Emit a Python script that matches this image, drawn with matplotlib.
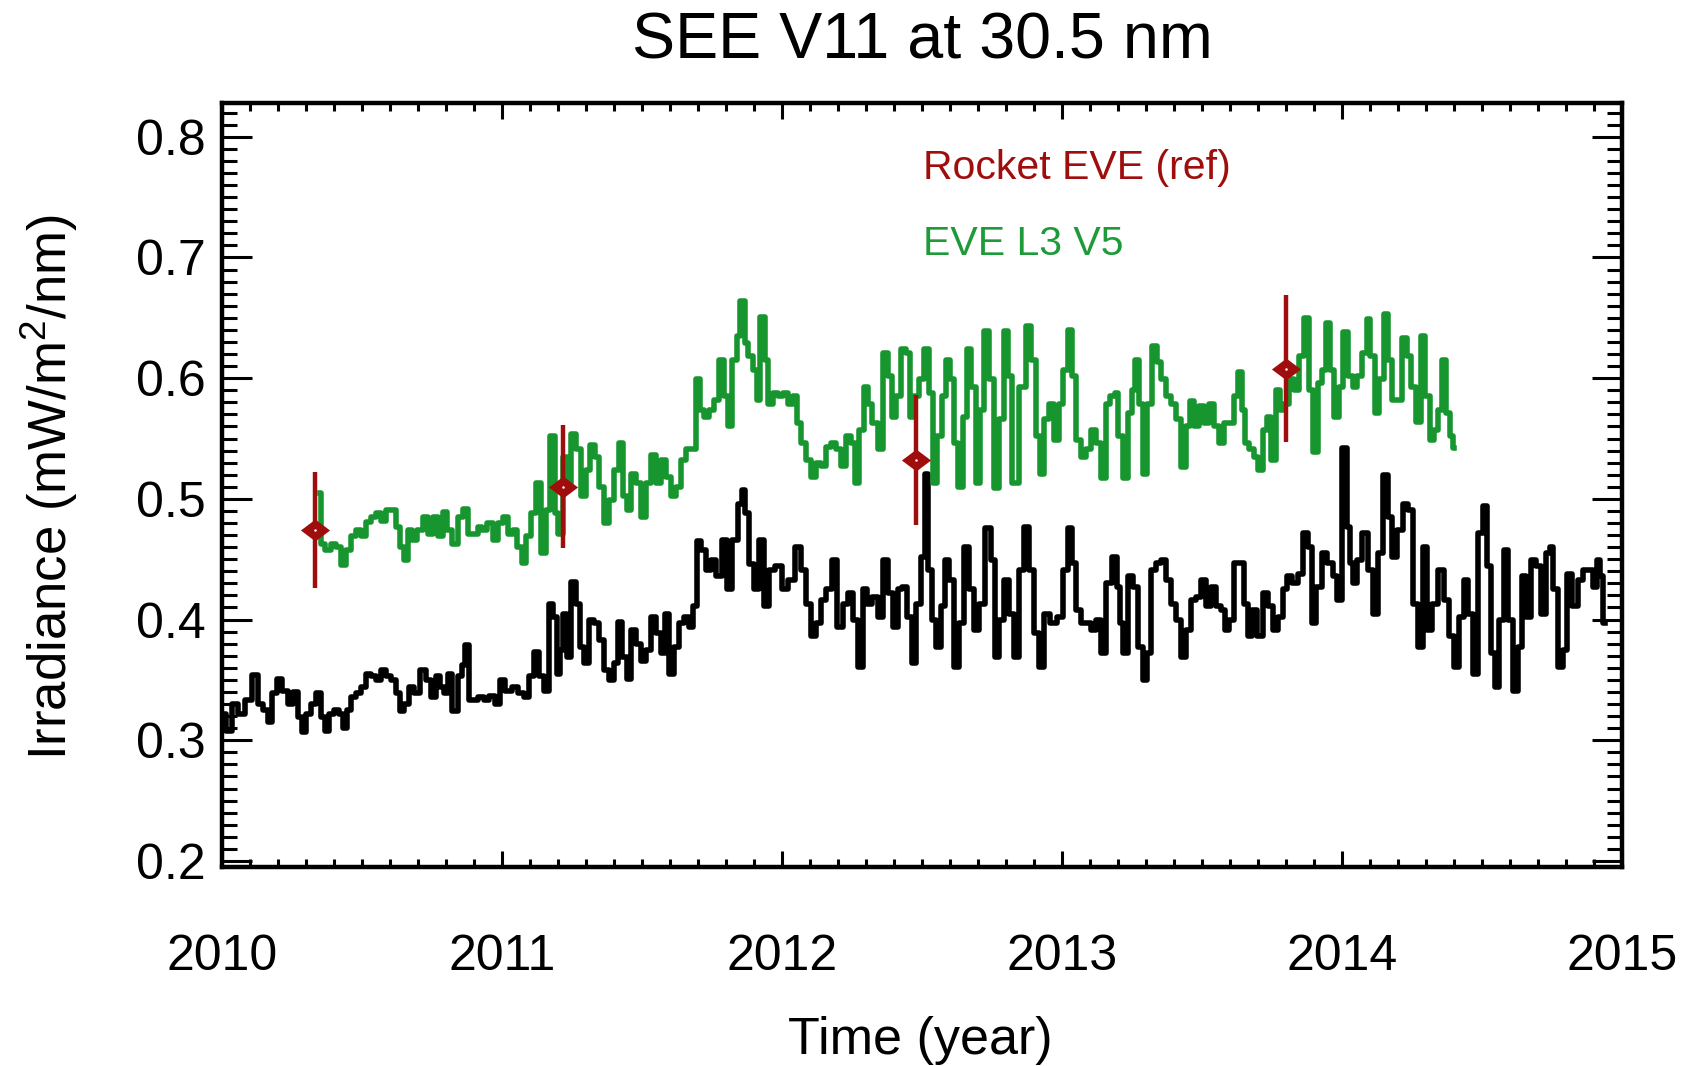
import matplotlib
matplotlib.use("Agg")
import matplotlib.pyplot as plt
from matplotlib.ticker import MultipleLocator, FormatStrFormatter

plt.rcParams['font.family'] = ['Liberation Sans', 'DejaVu Sans']
plt.rcParams['mathtext.fontset'] = 'custom'
plt.rcParams['mathtext.rm'] = 'Liberation Sans'
plt.rcParams['mathtext.it'] = 'Liberation Sans'

# ---------------------------------------------------------------------
# data (decimal year, mW/m^2/nm)
# ---------------------------------------------------------------------
see_time = [
    2010.005, 2010.023, 2010.046, 2010.070, 2010.094, 2010.118, 2010.136, 2010.154, 2010.171, 2010.189,
    2010.201, 2010.225, 2010.243, 2010.261, 2010.279, 2010.290, 2010.308, 2010.326, 2010.344, 2010.362,
    2010.374, 2010.392, 2010.410, 2010.427, 2010.439, 2010.451, 2010.469, 2010.487, 2010.505, 2010.523,
    2010.540, 2010.558, 2010.576, 2010.594, 2010.612, 2010.630, 2010.642, 2010.660, 2010.677, 2010.695,
    2010.719, 2010.737, 2010.755, 2010.773, 2010.785, 2010.802, 2010.814, 2010.832, 2010.850, 2010.862,
    2010.876, 2010.886, 2010.904, 2010.927, 2010.945, 2010.963, 2010.987,
    2010.999, 2011.023, 2011.046, 2011.070, 2011.088, 2011.106, 2011.124, 2011.142, 2011.160, 2011.177,
    2011.189, 2011.201, 2011.213, 2011.225, 2011.239, 2011.255, 2011.270, 2011.285, 2011.302, 2011.320,
    2011.338, 2011.356, 2011.374, 2011.392, 2011.410, 2011.421, 2011.439, 2011.451, 2011.469, 2011.487,
    2011.505, 2011.523, 2011.540, 2011.558, 2011.576, 2011.588, 2011.606, 2011.624, 2011.642, 2011.660,
    2011.677, 2011.689, 2011.701, 2011.719, 2011.737, 2011.755, 2011.773, 2011.796, 2011.814, 2011.832,
    2011.850, 2011.862, 2011.874, 2011.892, 2011.910, 2011.927, 2011.945, 2011.963, 2011.987,
    2012.011, 2012.035, 2012.058, 2012.076, 2012.094, 2012.112, 2012.130, 2012.148, 2012.165, 2012.189,
    2012.207, 2012.225, 2012.243, 2012.261, 2012.279, 2012.296, 2012.314, 2012.332, 2012.350, 2012.368,
    2012.386, 2012.404, 2012.421, 2012.439, 2012.457, 2012.473, 2012.487, 2012.505, 2012.517, 2012.529,
    2012.540, 2012.558, 2012.576, 2012.588, 2012.606, 2012.624, 2012.642, 2012.660, 2012.677, 2012.695,
    2012.713, 2012.737, 2012.755, 2012.767, 2012.785, 2012.802, 2012.820, 2012.838, 2012.856, 2012.874,
    2012.892, 2012.910, 2012.927, 2012.945, 2012.969, 2012.993,
    2013.011, 2013.029, 2013.040, 2013.058, 2013.076, 2013.094, 2013.112, 2013.130, 2013.148, 2013.165,
    2013.189, 2013.201, 2013.213, 2013.225, 2013.243, 2013.261, 2013.279, 2013.296, 2013.308, 2013.326,
    2013.344, 2013.362, 2013.380, 2013.398, 2013.415, 2013.433, 2013.451, 2013.469, 2013.487, 2013.505,
    2013.523, 2013.540, 2013.558, 2013.576, 2013.588, 2013.606, 2013.624, 2013.642, 2013.660, 2013.671,
    2013.689, 2013.707, 2013.725, 2013.743, 2013.761, 2013.779, 2013.796, 2013.814, 2013.832, 2013.850,
    2013.868, 2013.886, 2013.898, 2013.915, 2013.939, 2013.957, 2013.975, 2013.987,
    2014.011, 2014.023, 2014.035, 2014.046, 2014.064, 2014.082, 2014.100, 2014.118, 2014.136, 2014.154,
    2014.171, 2014.189, 2014.207, 2014.225, 2014.243, 2014.261, 2014.279, 2014.296, 2014.314, 2014.332,
    2014.356, 2014.374, 2014.392, 2014.410, 2014.427, 2014.445, 2014.457, 2014.475, 2014.493, 2014.511,
    2014.525, 2014.540, 2014.552, 2014.570, 2014.585, 2014.600, 2014.618, 2014.636, 2014.648, 2014.665,
    2014.683, 2014.701, 2014.719, 2014.737, 2014.749, 2014.761, 2014.779, 2014.796, 2014.814, 2014.832,
    2014.850, 2014.868, 2014.886, 2014.904, 2014.915, 2014.927, 2014.939,
]
see_irr = [
    0.322, 0.308, 0.330, 0.322, 0.333, 0.354, 0.330, 0.325, 0.315, 0.339,
    0.351, 0.341, 0.330, 0.340, 0.319, 0.307, 0.322, 0.330, 0.339, 0.319,
    0.308, 0.322, 0.325, 0.322, 0.310, 0.325, 0.336, 0.339, 0.344, 0.355,
    0.353, 0.350, 0.358, 0.353, 0.350, 0.339, 0.324, 0.330, 0.344, 0.339,
    0.358, 0.350, 0.336, 0.353, 0.344, 0.339, 0.355, 0.324, 0.353, 0.362,
    0.379, 0.333, 0.333, 0.336, 0.333, 0.337, 0.330,
    0.350, 0.341, 0.344, 0.339, 0.336, 0.353, 0.373, 0.353, 0.341, 0.413,
    0.402, 0.355, 0.375, 0.405, 0.369, 0.431, 0.413, 0.377, 0.364, 0.400,
    0.397, 0.383, 0.358, 0.350, 0.364, 0.398, 0.369, 0.351, 0.391, 0.380,
    0.366, 0.375, 0.402, 0.389, 0.372, 0.405, 0.355, 0.377, 0.397, 0.402,
    0.394, 0.411, 0.465, 0.458, 0.441, 0.449, 0.436, 0.466, 0.425, 0.466,
    0.496, 0.507, 0.488, 0.446, 0.425, 0.466, 0.411, 0.441, 0.444,
    0.425, 0.433, 0.460, 0.441, 0.413, 0.386, 0.397, 0.416, 0.425, 0.449,
    0.394, 0.413, 0.422, 0.400, 0.361, 0.425, 0.413, 0.419, 0.402, 0.449,
    0.422, 0.394, 0.425, 0.427, 0.402, 0.364, 0.413, 0.452, 0.521, 0.441,
    0.400, 0.377, 0.411, 0.449, 0.433, 0.361, 0.397, 0.460, 0.425, 0.391,
    0.413, 0.476, 0.449, 0.369, 0.400, 0.433, 0.405, 0.369, 0.441, 0.477,
    0.441, 0.389, 0.361, 0.405, 0.397, 0.402,
    0.441, 0.476, 0.447, 0.408, 0.397, 0.397, 0.391, 0.400, 0.372, 0.430,
    0.452, 0.427, 0.397, 0.372, 0.436, 0.427, 0.377, 0.350, 0.372, 0.441,
    0.447, 0.449, 0.433, 0.413, 0.400, 0.369, 0.391, 0.416, 0.419, 0.433,
    0.411, 0.427, 0.411, 0.408, 0.391, 0.400, 0.447, 0.447, 0.413, 0.386,
    0.408, 0.386, 0.422, 0.411, 0.391, 0.402, 0.425, 0.436, 0.430, 0.438,
    0.472, 0.460, 0.397, 0.427, 0.455, 0.447, 0.436, 0.416,
    0.542, 0.477, 0.447, 0.430, 0.449, 0.472, 0.441, 0.405, 0.455, 0.520,
    0.485, 0.452, 0.474, 0.496, 0.491, 0.413, 0.377, 0.460, 0.391, 0.413,
    0.441, 0.416, 0.386, 0.361, 0.402, 0.433, 0.405, 0.355, 0.472, 0.494,
    0.444, 0.372, 0.344, 0.400, 0.458, 0.400, 0.341, 0.377, 0.436, 0.402,
    0.449, 0.444, 0.405, 0.455, 0.460, 0.425, 0.361, 0.375, 0.438, 0.411,
    0.433, 0.441, 0.441, 0.427, 0.449, 0.436, 0.397,
]

eve_time = [
    2010.350, 2010.358, 2010.380, 2010.398, 2010.415, 2010.433, 2010.451, 2010.469, 2010.487, 2010.505,
    2010.523, 2010.540, 2010.558, 2010.576, 2010.594, 2010.612, 2010.630, 2010.642, 2010.656, 2010.671,
    2010.689, 2010.707, 2010.725, 2010.743, 2010.761, 2010.779, 2010.796, 2010.814, 2010.832, 2010.850,
    2010.868, 2010.886, 2010.904, 2010.921, 2010.939, 2010.957, 2010.975, 2010.993,
    2011.011, 2011.029, 2011.046, 2011.064, 2011.076, 2011.094, 2011.112, 2011.130, 2011.148, 2011.165,
    2011.180, 2011.195, 2011.207, 2011.225, 2011.237, 2011.255, 2011.273, 2011.290, 2011.308, 2011.323,
    2011.338, 2011.356, 2011.374, 2011.392, 2011.410, 2011.424, 2011.439, 2011.451, 2011.469, 2011.487,
    2011.505, 2011.523, 2011.540, 2011.558, 2011.576, 2011.594, 2011.612, 2011.630, 2011.648, 2011.665,
    2011.683, 2011.701, 2011.715, 2011.731, 2011.749, 2011.767, 2011.785, 2011.802, 2011.814, 2011.832,
    2011.844, 2011.858, 2011.874, 2011.886, 2011.904, 2011.915, 2011.930, 2011.945, 2011.957, 2011.975,
    2011.993,
    2012.011, 2012.029, 2012.046, 2012.058, 2012.076, 2012.094, 2012.112, 2012.130, 2012.148, 2012.165,
    2012.183, 2012.201, 2012.219, 2012.237, 2012.255, 2012.267, 2012.285, 2012.299, 2012.314, 2012.332,
    2012.350, 2012.368, 2012.386, 2012.401, 2012.415, 2012.433, 2012.451, 2012.465, 2012.481, 2012.499,
    2012.517, 2012.532, 2012.546, 2012.564, 2012.576, 2012.594, 2012.606, 2012.624, 2012.636, 2012.654,
    2012.665, 2012.683, 2012.701, 2012.715, 2012.731, 2012.749, 2012.767, 2012.785, 2012.799, 2012.814,
    2012.832, 2012.862, 2012.880, 2012.898, 2012.915, 2012.927, 2012.945, 2012.961, 2012.981, 2012.999,
    2013.011, 2013.029, 2013.040, 2013.058, 2013.076, 2013.094, 2013.112, 2013.130, 2013.148, 2013.165,
    2013.180, 2013.195, 2013.207, 2013.225, 2013.243, 2013.255, 2013.267, 2013.282, 2013.296, 2013.314,
    2013.332, 2013.346, 2013.362, 2013.380, 2013.398, 2013.415, 2013.433, 2013.449, 2013.463, 2013.481,
    2013.499, 2013.517, 2013.535, 2013.552, 2013.570, 2013.588, 2013.606, 2013.624, 2013.636, 2013.648,
    2013.660, 2013.677, 2013.695, 2013.707, 2013.725, 2013.737, 2013.755, 2013.770, 2013.785, 2013.802,
    2013.820, 2013.838, 2013.856, 2013.874, 2013.892, 2013.904, 2013.921, 2013.933, 2013.951, 2013.965,
    2013.981, 2013.996,
    2014.011, 2014.029, 2014.046, 2014.064, 2014.082, 2014.094, 2014.108, 2014.124, 2014.142, 2014.156,
    2014.171, 2014.189, 2014.207, 2014.223, 2014.239, 2014.255, 2014.273, 2014.290, 2014.306, 2014.320,
    2014.335, 2014.350, 2014.365, 2014.380, 2014.392, 2014.400,
]
eve_irr = [
    0.505, 0.463, 0.458, 0.463, 0.460, 0.445, 0.458, 0.469, 0.474, 0.469,
    0.481, 0.485, 0.488, 0.482, 0.491, 0.491, 0.477, 0.460, 0.449, 0.474,
    0.466, 0.474, 0.485, 0.471, 0.485, 0.469, 0.489, 0.474, 0.463, 0.485,
    0.492, 0.471, 0.471, 0.477, 0.474, 0.480, 0.466, 0.480,
    0.485, 0.471, 0.474, 0.460, 0.447, 0.469, 0.488, 0.513, 0.455, 0.491,
    0.552, 0.488, 0.471, 0.535, 0.513, 0.554, 0.541, 0.502, 0.524, 0.545,
    0.535, 0.510, 0.480, 0.499, 0.524, 0.546, 0.502, 0.491, 0.521, 0.513,
    0.485, 0.513, 0.536, 0.513, 0.532, 0.518, 0.502, 0.510, 0.532, 0.541,
    0.541, 0.599, 0.574, 0.568, 0.574, 0.582, 0.615, 0.585, 0.560, 0.615,
    0.635, 0.664, 0.629, 0.618, 0.607, 0.582, 0.651, 0.615, 0.579, 0.588,
    0.585,
    0.588, 0.579, 0.585, 0.563, 0.546, 0.532, 0.518, 0.530, 0.527, 0.543,
    0.546, 0.541, 0.527, 0.552, 0.546, 0.513, 0.557, 0.593, 0.579, 0.563,
    0.541, 0.621, 0.602, 0.568, 0.585, 0.624, 0.621, 0.568, 0.585, 0.599,
    0.624, 0.588, 0.513, 0.552, 0.585, 0.615, 0.599, 0.546, 0.510, 0.568,
    0.624, 0.593, 0.513, 0.574, 0.639, 0.599, 0.509, 0.566, 0.639, 0.602,
    0.513, 0.593, 0.643, 0.615, 0.552, 0.521, 0.566, 0.579, 0.549, 0.579,
    0.607, 0.640, 0.602, 0.549, 0.535, 0.541, 0.557, 0.546, 0.517, 0.579,
    0.585, 0.588, 0.552, 0.517, 0.571, 0.590, 0.615, 0.579, 0.521, 0.579,
    0.627, 0.613, 0.599, 0.585, 0.579, 0.566, 0.526, 0.560, 0.581, 0.560,
    0.577, 0.563, 0.579, 0.560, 0.546, 0.563, 0.563, 0.585, 0.605, 0.574,
    0.546, 0.541, 0.535, 0.524, 0.557, 0.568, 0.532, 0.590, 0.574, 0.579,
    0.599, 0.590, 0.618, 0.650, 0.590, 0.539, 0.596, 0.607, 0.646, 0.607,
    0.568, 0.593,
    0.638, 0.602, 0.593, 0.602, 0.621, 0.649, 0.618, 0.571, 0.599, 0.653,
    0.615, 0.582, 0.582, 0.633, 0.618, 0.593, 0.564, 0.635, 0.585, 0.549,
    0.557, 0.574, 0.615, 0.571, 0.552, 0.542,
]

rocket_time = [2010.332, 2011.219, 2012.479, 2013.799]
rocket_irr = [0.474, 0.510, 0.532, 0.608]
rocket_err = [0.048, 0.051, 0.054, 0.061]

see_color = 'black'
eve_color = '#17962f'
rocket_color = '#a00d0d'

# ---------------------------------------------------------------------
# figure
# ---------------------------------------------------------------------
fig = plt.figure(figsize=(16.99, 10.66), dpi=100, facecolor='white')
ax = fig.add_axes([0.1307, 0.1867, 0.8240, 0.7167])

ax.plot(see_time, see_irr, color=see_color, lw=4.0, drawstyle='steps-mid', zorder=2)
ax.plot(eve_time, eve_irr, color=eve_color, lw=4.0, drawstyle='steps-mid', zorder=2)

ax.errorbar(rocket_time, rocket_irr, yerr=rocket_err, fmt='none',
            ecolor=rocket_color, elinewidth=3.2, capsize=0, zorder=3)
diamond = [(-1, 0), (0, 0.75), (1, 0), (0, -0.75), (-1, 0)]
ax.plot(rocket_time, rocket_irr, linestyle='none', marker=diamond, markersize=21,
        color=rocket_color, markeredgewidth=0, zorder=4)
ax.plot(rocket_time, rocket_irr, linestyle='none', marker='o', markersize=1.8,
        color='white', markeredgewidth=0, zorder=5)

# legend as plain coloured text
ax.text(0.5007, 0.915, 'Rocket EVE (ref)', transform=ax.transAxes, color=rocket_color,
        fontsize=29.5, ha='left', va='center')
ax.text(0.5007, 0.815, 'EVE L3 V5', transform=ax.transAxes, color='#1f9a3a',
        fontsize=29.5, ha='left', va='center')

ax.set_xlim(2010, 2015)
ax.set_ylim(0.195, 0.828)
ax.set_xticks([2010, 2011, 2012, 2013, 2014, 2015])
ax.xaxis.set_minor_locator(MultipleLocator(0.1))
ax.set_yticks([0.2, 0.3, 0.4, 0.5, 0.6, 0.7, 0.8])
ax.yaxis.set_minor_locator(MultipleLocator(0.01))
ax.xaxis.set_major_formatter(FormatStrFormatter('%d'))
ax.yaxis.set_major_formatter(FormatStrFormatter('%.1f'))

ax.tick_params(which='both', direction='in', top=True, right=True, width=2.2, colors='black')
ax.tick_params(axis='x', which='major', length=11.5, pad=48, labelsize=36)
ax.tick_params(axis='x', which='minor', length=5.8)
ax.tick_params(axis='y', which='major', length=21.6, pad=12, labelsize=36)
ax.tick_params(axis='y', which='minor', length=10.8)

for sp in ax.spines.values():
    sp.set_linewidth(3.2)

fig.text(0.5426, 0.9615, 'SEE V11 at 30.5 nm', fontsize=46.5, ha='center', va='center')
fig.text(0.5415, 0.024, 'Time (year)', fontsize=37.5, ha='center', va='center')
fig.text(0.029, 0.543, r'Irradiance (mW/m$^{2}$/nm)', fontsize=38, rotation=90,
         ha='center', va='center')

fig.savefig('out.png', dpi=100)
